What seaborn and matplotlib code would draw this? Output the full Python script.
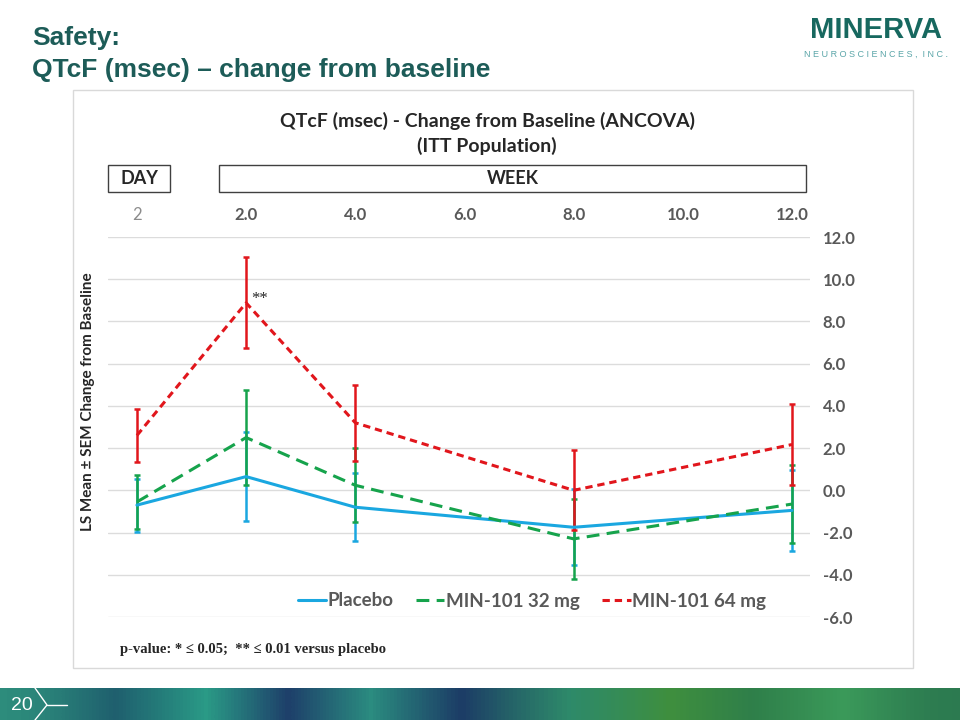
import numpy as np
import pandas as pd
import matplotlib
matplotlib.use("Agg")
import matplotlib.pyplot as plt
from matplotlib.patches import Rectangle
from matplotlib.lines import Line2D
from matplotlib.colors import LinearSegmentedColormap
import seaborn as sns

# values (x = weeks, day 2 drawn at 0)
visits = [0, 2, 4, 8, 12]
tick_pos = [0, 2, 4, 6, 8, 10, 12]
tick_labels = ["2", "2.0", "4.0", "6.0", "8.0", "10.0", "12.0"]
groups = ["Placebo", "MIN-101 32 mg", "MIN-101 64 mg"]
placebo_mean = [-0.7, 0.65, -0.8, -1.75, -0.95]
placebo_sem = [1.25, 2.1, 1.6, 1.8, 1.9]
mg32_mean = [-0.55, 2.5, 0.24, -2.3, -0.65]
mg32_sem = [1.3, 2.25, 1.75, 1.9, 1.85]
mg64_mean = [2.6, 8.88, 3.2, 0.0, 2.17]
mg64_sem = [1.25, 2.15, 1.8, 1.9, 1.9]

means = [placebo_mean, mg32_mean, mg64_mean]
sems = [placebo_sem, mg32_sem, mg64_sem]
df = pd.DataFrame({
    "week": visits * 3,
    "mean": placebo_mean + mg32_mean + mg64_mean,
    "group": [g for g in groups for _ in visits],
})

colors = {"Placebo": "#1aa7e0", "MIN-101 32 mg": "#16a34c", "MIN-101 64 mg": "#e1161c"}
dashes = {"Placebo": "", "MIN-101 32 mg": (4.2, 2.4), "MIN-101 64 mg": (2.4, 1.6)}

sns.set_style("white")
plt.rcParams["font.family"] = ["Lato", "DejaVu Sans"]

fig = plt.figure(figsize=(9.6, 7.2), dpi=100)
W, H = 960, 720

def fx(px):
    return px / W

def fy(py):
    return 1 - py / H

# chart frame
fig.patches.append(Rectangle((fx(73), fy(668)), fx(913) - fx(73), fy(90) - fy(668),
                             transform=fig.transFigure, fill=False, ec="#d9d9d9", lw=1))

ax = fig.add_axes([fx(108), fy(617), fx(810) - fx(108), fy(237) - fy(617)])

for i, g in enumerate(groups):
    ax.errorbar(visits, means[i], yerr=sems[i], fmt="none", ecolor=colors[g],
                elinewidth=1.8, capsize=2, capthick=1.8, zorder=2 + i)

sns.lineplot(data=df, x="week", y="mean", hue="group", style="group",
             palette=colors, dashes=dashes, linewidth=2.2, sort=False,
             ax=ax, zorder=6)

ax.set_xlim(-0.53, 12.33)
ax.set_ylim(-6, 12)
ax.set_yticks(np.arange(-6, 13, 2))
ax.yaxis.set_major_formatter(matplotlib.ticker.FormatStrFormatter("%.1f"))
ax.yaxis.tick_right()
ax.tick_params(axis="y", length=0, pad=9, labelsize=12, labelcolor="#595959")
for t in ax.get_yticklabels():
    t.set_fontweight("bold")
ax.xaxis.tick_top()
ax.set_xticks(tick_pos)
ax.set_xticklabels(tick_labels)
ax.tick_params(axis="x", length=0, pad=10, labelsize=12, labelcolor="#595959")
for i, t in enumerate(ax.get_xticklabels()):
    if i == 0:
        t.set_color("#8c8c8c")
    else:
        t.set_fontweight("bold")
ax.set_xlabel("")
ax.set_ylabel("")
ax.grid(axis="y", color="#dcdcdc", lw=1)
ax.grid(axis="x", visible=False)
sns.despine(ax=ax, left=True, right=True, top=True, bottom=True)

ax.annotate("**", xy=(2, 8.88), xytext=(4, 3), textcoords="offset points",
            ha="left", va="center", fontsize=12, family="Liberation Serif")

handles, labels = ax.get_legend_handles_labels()
leg = ax.legend(handles, labels, loc="center", ncol=3, frameon=False,
                bbox_to_anchor=(fx(532), fy(601)), bbox_transform=fig.transFigure,
                fontsize=13.5, handlelength=1.5, handletextpad=0.1, columnspacing=1.2)
for t in leg.get_texts():
    t.set_color("#595959")
    t.set_fontweight("bold")

# y label
fig.text(fx(88), fy(402), "LS Mean \u00b1 SEM Change from Baseline", rotation=90,
         ha="center", va="center", fontsize=11, fontweight="bold")

# chart title
fig.text(fx(487), fy(121), "QTcF (msec) - Change from Baseline (ANCOVA)",
         ha="center", va="center", fontsize=14, fontweight="bold")
fig.text(fx(487), fy(146), "(ITT Population)",
         ha="center", va="center", fontsize=14, fontweight="bold")

# DAY / WEEK boxes
for x0, x1, lab in [(108, 170, "DAY"), (219, 806, "WEEK")]:
    fig.patches.append(Rectangle((fx(x0), fy(192)), fx(x1) - fx(x0), fy(165) - fy(192),
                                 transform=fig.transFigure, fill=False, ec="#404040", lw=1))
    fig.text(fx((x0 + x1) / 2), fy(178.5), lab, ha="center", va="center",
             fontsize=13, fontweight="bold")

# footnote
fig.text(fx(120), fy(650), "p-value: * \u2264 0.05;  ** \u2264 0.01 versus placebo",
         ha="left", va="center", fontsize=10.5, fontweight="bold",
         family=["Liberation Serif", "DejaVu Serif"])

# slide title
title_color = "#1d5c58"
fig.text(fx(32), fy(38), "Safety:", ha="left", va="center", fontsize=19,
         fontweight="bold", color=title_color, family="Liberation Sans")
fig.text(fx(32), fy(70), "QTcF (msec) \u2013 change from baseline", ha="left", va="center",
         fontsize=19, fontweight="bold", color=title_color, family="Liberation Sans")

# logo
fig.text(fx(876), fy(30), "MINERVA", ha="center", va="center", fontsize=21,
         fontweight="bold", color="#17685f", family="Liberation Sans")
fig.text(fx(876), fy(54), "N E U R O S C I E N C E S ,  I N C .", ha="center", va="center",
         fontsize=6.5, color="#5aa5a8", family="Liberation Sans")

# footer band
fax = fig.add_axes([0, 0, 1, fy(688)])
band_cmap = LinearSegmentedColormap.from_list(
    "band", ["#2d8c7c", "#1f5f6e", "#2a9a86", "#1e3f6a", "#2b8c80", "#1c3c66",
             "#2e8a6a", "#3f8f3e", "#2f7f4a", "#3b9a5a", "#2c7a50"])
band = np.array([[0, 0.08, 0.15, 0.22, 0.3, 0.38, 0.45, 0.52, 0.58, 0.63, 0.7, 0.78, 0.85, 0.92, 1.0]])
fax.imshow(band, aspect="auto", cmap=band_cmap, interpolation="bicubic", extent=(0, 1, 0, 1))
fax.set_axis_off()
fig.text(fx(22), fy(705), "20", ha="center", va="center", fontsize=14, color="white",
         family="Liberation Sans")
for xs, ys in [([35, 47, 35], [688, 705, 720]), ([47, 67], [705, 705])]:
    fig.lines.append(Line2D([fx(x) for x in xs], [fy(y) for y in ys],
                            transform=fig.transFigure, color="white", lw=1))

fig.savefig("out.png", dpi=100)
